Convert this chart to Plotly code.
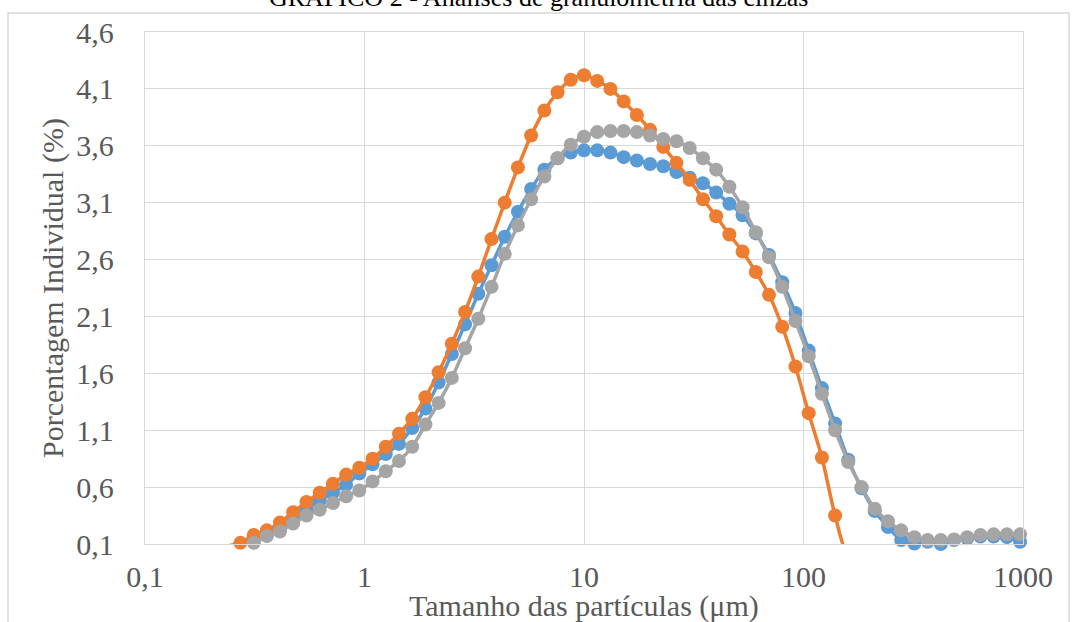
import plotly.graph_objects as go

# Particle size classes (µm)
sizes = [0.207, 0.237, 0.272, 0.313, 0.359, 0.412, 0.473, 0.544, 0.625, 0.718, 0.825,
         0.947, 1.088, 1.250, 1.436, 1.649, 1.895, 2.176, 2.500, 2.872, 3.299,
         3.789, 4.353, 5.000, 5.743, 6.598, 7.579, 8.706, 10.00, 11.49, 13.20,
         15.16, 17.41, 20.00, 22.97, 26.39, 30.31, 34.82, 40.00, 45.95, 52.78,
         60.63, 69.64, 80.00, 91.90, 105.6, 121.3, 139.3, 160.0, 183.8, 211.1,
         242.5, 278.6, 320.0, 367.6, 422.2, 485.0, 557.2, 640.0, 735.2, 844.5, 970.1]

blue = [None, None, 0.07, 0.12, 0.18, 0.23, 0.30, 0.40, 0.48, 0.55, 0.62,
        0.72, 0.80, 0.89, 0.98, 1.12, 1.29, 1.52, 1.77, 2.03, 2.30,
        2.55, 2.80, 3.02, 3.22, 3.39, 3.49, 3.54, 3.56, 3.56, 3.54,
        3.50, 3.47, 3.44, 3.42, 3.37, 3.32, 3.27, 3.19, 3.09, 2.99,
        2.83, 2.64, 2.40, 2.13, 1.80, 1.47, 1.16, 0.84, 0.59, 0.39,
        0.25, 0.135, 0.105, 0.12, 0.10, 0.135, 0.15, 0.165, 0.165, 0.16, 0.12]

orange = [0.0, 0.08, 0.11, 0.18, 0.22, 0.29, 0.38, 0.47, 0.55, 0.63, 0.71,
          0.77, 0.85, 0.955, 1.07, 1.20, 1.39, 1.61, 1.86, 2.14, 2.45,
          2.78, 3.10, 3.41, 3.69, 3.91, 4.07, 4.18, 4.22, 4.17, 4.10,
          3.99, 3.87, 3.74, 3.59, 3.45, 3.30, 3.13, 2.98, 2.82, 2.67,
          2.49, 2.29, 2.01, 1.66, 1.25, 0.86, 0.35, 0.0, 0.0, 0.0,
          0.0, 0.0, 0.0, 0.0, 0.0, 0.0, 0.0, 0.0, 0.0, 0.0, 0.0]

gray = [None, None, 0.06, 0.11, 0.17, 0.21, 0.28, 0.35, 0.40, 0.46, 0.52,
        0.57, 0.65, 0.74, 0.83, 0.955, 1.15, 1.34, 1.56, 1.82, 2.08,
        2.36, 2.65, 2.90, 3.13, 3.33, 3.49, 3.61, 3.68, 3.72, 3.73,
        3.73, 3.72, 3.69, 3.66, 3.64, 3.58, 3.49, 3.39, 3.24, 3.06,
        2.84, 2.62, 2.36, 2.06, 1.75, 1.42, 1.10, 0.82, 0.60, 0.41,
        0.30, 0.22, 0.16, 0.135, 0.135, 0.14, 0.16, 0.18, 0.185, 0.185, 0.185]

series = [("Série 1", blue, "#5B9BD5"), ("Série 2", orange, "#ED7D31"), ("Série 3", gray, "#A5A5A5")]

x_tickvals = [0.1, 1, 10, 100, 1000]
x_ticktext = ["0,1", "1", "10", "100", "1000"]
y_tickvals = [0.1, 0.6, 1.1, 1.6, 2.1, 2.6, 3.1, 3.6, 4.1, 4.6]
y_ticktext = ["0,1", "0,6", "1,1", "1,6", "2,1", "2,6", "3,1", "3,6", "4,1", "4,6"]

title_text = "GRÁFICO 2 - Análises de granulometria das cinzas"
x_title = "Tamanho das partículas (μm)"
y_title = "Porcentagem Individual (%)"

W, H = 1076, 622
L, R, T, B = 145, 53, 32, 78
pw, ph = W - L - R, H - T - B

fig = go.Figure()
for name, vals, col in series:
    xs = [s for s, v in zip(sizes, vals) if v is not None]
    ys = [v for v in vals if v is not None]
    fig.add_trace(go.Scatter(x=xs, y=ys, mode="lines", name=name,
                             line=dict(color=col, width=3.5, shape="spline", smoothing=0.8),
                             hoverinfo="skip", showlegend=False))
    mx = [s for s, v in zip(sizes, vals) if v is not None and v >= 0.095]
    my = [v for v in vals if v is not None and v >= 0.095]
    fig.add_trace(go.Scatter(x=mx, y=my, mode="markers", name=name,
                             marker=dict(color=col, size=14, line=dict(width=0)),
                             cliponaxis=False, showlegend=False))

font_fam = "Liberation Serif, Times New Roman, serif"
tcol = "#595959"
grid = "#d9d9d9"

fig.update_layout(
    width=W, height=H,
    margin=dict(l=L, r=R, t=T, b=B),
    paper_bgcolor="white", plot_bgcolor="white",
    font=dict(family=font_fam, color=tcol),
    showlegend=False,
    xaxis=dict(type="log", range=[-1, 3], tickvals=x_tickvals, ticktext=x_ticktext,
               showgrid=True, gridcolor=grid, gridwidth=1.3, zeroline=False,
               showline=True, linecolor=grid, linewidth=1.3, mirror=True,
               ticks="outside", ticklen=6, tickcolor="rgba(0,0,0,0)",
               tickfont=dict(size=30, color=tcol, family=font_fam)),
    yaxis=dict(range=[0.1, 4.6], tickvals=y_tickvals, ticktext=y_ticktext,
               showgrid=True, gridcolor=grid, gridwidth=1.3, zeroline=False,
               showline=True, linecolor=grid, linewidth=1.3, mirror=True,
               ticks="outside", ticklen=24, tickcolor="rgba(0,0,0,0)",
               tickfont=dict(size=30, color=tcol, family=font_fam)),
    annotations=[
        dict(text=title_text, xref="paper", yref="paper", x=(538 - L) / pw, y=1,
             xanchor="center", yanchor="middle", yshift=T + 3, showarrow=False,
             font=dict(size=26, color="black", family=font_fam)),
        dict(text=x_title, xref="paper", yref="paper", x=0.5, y=0,
             xanchor="center", yanchor="middle", yshift=-62, showarrow=False,
             font=dict(size=30, color=tcol, family=font_fam)),
        dict(text=y_title, xref="paper", yref="paper", x=0, y=0.5,
             xanchor="center", yanchor="middle", xshift=-92, textangle=-90, showarrow=False,
             font=dict(size=30, color=tcol, family=font_fam)),
    ],
    shapes=[dict(type="rect", xref="paper", yref="paper",
                 x0=(8 - L) / pw, x1=(1069 - L) / pw,
                 y0=-(H + 20 - T - ph) / ph, y1=1 + (T - 13) / ph,
                 line=dict(color=grid, width=1.5), fillcolor="rgba(0,0,0,0)", layer="below")],
)

fig.write_html("out.html", config={"displayModeBar": False},
               post_script="document.body.style.margin='0';document.body.style.padding='0';document.body.style.overflow='hidden';")
